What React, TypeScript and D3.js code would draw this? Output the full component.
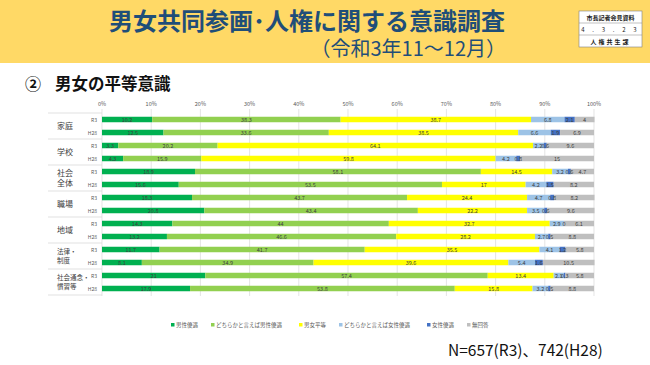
import React from "react";
import * as d3 from "d3";

const categories = ["家庭", "学校", "社会全体", "職場", "地域", "法律・制度", "社会通念・慣習等"];
const categoryLines = [["家庭"], ["学校"], ["社会", "全体"], ["職場"], ["地域"], ["法律・", "制度"], ["社会通念・", "慣習等"]];
const years = ["R3", "H28"];
const seriesNames = ["男性優遇", "どちらかと言えば男性優遇", "男女平等", "どちらかと言えば女性優遇", "女性優遇", "無回答"];
const seriesColors = ["#00B050", "#92D050", "#FFFF00", "#9DC3E6", "#4472C4", "#BFBFBF"];

// values in order: 家庭 R3, 家庭 H28, 学校 R3, 学校 H28, ...
const menFavored = [10.2, 12.5, 3.3, 4.3, 18.9, 15.6, 18.3, 20.8, 14.3, 13.2, 11.7, 8.1, 21, 17.9];
const somewhatMen = [38.3, 33.6, 20.2, 15.9, 58.1, 53.5, 43.7, 43.4, 44, 46.6, 41.7, 34.9, 57.4, 53.8];
const equal = [38.7, 38.5, 64.1, 59.8, 14.5, 17, 24.4, 22.2, 32.7, 28.2, 35.5, 39.6, 13.4, 15.8];
const somewhatWomen = [6.8, 6.6, 2.2, 4.2, 3.2, 4.2, 4.7, 3.5, 2.9, 2.7, 4.1, 5.4, 2.1, 3.2];
const womenFavored = [2.1, 1.9, 0.6, 0.8, 0.6, 1.5, 0.8, 0.6, 0, 0.5, 1.2, 1.6, 0.3, 0.5];
const noAnswer = [4, 6.9, 9.6, 15, 4.7, 8.2, 8.2, 9.6, 6.1, 8.8, 5.8, 10.5, 5.8, 8.8];
const xTicks = [0, 10, 20, 30, 40, 50, 60, 70, 80, 90, 100];

const FONT = "'Noto Sans CJK JP', 'Noto Sans', sans-serif";

const App = () => {
  const width = 650;
  const height = 365;
  const allSeries = [menFavored, somewhatMen, equal, somewhatWomen, womenFavored, noAnswer];

  const rows = [];
  categories.forEach((c, ci) => {
    years.forEach((y, yi) => {
      const row: any = { cat: c, year: y };
      seriesNames.forEach((s, si) => {
        row[s] = allSeries[si][ci * 2 + yi];
      });
      rows.push(row);
    });
  });

  const stacked = d3.stack().keys(seriesNames)(rows);

  const x = d3.scaleLinear().domain([0, 100]).range([102, 594]);
  const yGroup = d3.scaleBand().domain(categories).range([113, 295]);
  const yInner = d3.scalePoint().domain(years).range([0, yGroup.bandwidth()]).padding(0.5);
  const barH = 5.5;

  // legend positions
  let lx = 171;
  const legendItems = seriesNames.map((s, i) => {
    const item = { name: s, color: seriesColors[i], x: lx };
    lx += 5 + s.length * 6 + 11;
    return item;
  });

  return (
    <svg width={width} height={height} style={{ position: "absolute", left: 0, top: 0, fontFamily: FONT }}>
      <rect x={0} y={0} width={width} height={height} fill="#fff" />
      {/* header */}
      <rect x={0} y={0} width={width} height={63} fill="#FFD966" />
      <text x={307} y={30} textAnchor="middle" fontSize={24} fontWeight="bold" fill="#1F4E79">
        男女共同参画･人権に関する意識調査
      </text>
      <text x={506} y={56} textAnchor="end" fontSize={20} fill="#1F4E79">
        （令和3年11～12月）
      </text>
      <g>
        <rect x={579} y={11} width={63} height={36} fill="#fff" stroke="#808080" strokeWidth={0.6} />
        <line x1={579} x2={642} y1={23} y2={23} stroke="#808080" strokeWidth={0.5} />
        <line x1={579} x2={642} y1={35} y2={35} stroke="#808080" strokeWidth={0.5} />
        <text x={610.5} y={19.5} textAnchor="middle" fontSize={6} fontWeight="bold" fill="#222">市長記者会見資料</text>
        <text x={610.5} y={31.5} textAnchor="middle" fontSize={6} fill="#222" letterSpacing={3.2}>4 . 3 . 2 3</text>
        <text x={610.5} y={43.5} textAnchor="middle" fontSize={6} fontWeight="bold" fill="#222" letterSpacing={2}>人権共生課</text>
      </g>
      <text x={25} y={90} fontSize={16} fontWeight="bold" fill="#111">②</text>
      <text x={55} y={90} fontSize={16.5} fontWeight="bold" fill="#111">男女の平等意識</text>

      {/* grid */}
      {xTicks.map((t) => (
        <g key={t}>
          <line x1={x(t)} x2={x(t)} y1={109} y2={296} stroke="#D9D9D9" strokeWidth={0.7} />
          <text x={x(t)} y={106} textAnchor="middle" fontSize={5.5} fill="#595959">
            {t}%
          </text>
        </g>
      ))}

      {/* left labels */}
      {categories.map((c, ci) => {
        const top = yGroup(c);
        const lines = categoryLines[ci];
        const cy = top + yGroup.bandwidth() / 2;
        const fs = ci >= 5 ? 6.5 : 8;
        const lh = ci >= 5 ? 9 : 10.5;
        return (
          <g key={c}>
            <line x1={48} x2={102} y1={top} y2={top} stroke="#D9D9D9" strokeWidth={0.8} />
            {lines.map((l, li) => (
              <text
                key={li}
                x={57}
                y={cy + fs * 0.38 + (li - (lines.length - 1) / 2) * lh}
                fontSize={fs}
                fill="#404040"
              >
                {l}
              </text>
            ))}
            {years.map((yr) => (
              <text key={yr} x={97} y={top + yInner(yr) + 2} textAnchor="end" fontSize={5} fill="#595959">
                {yr}
              </text>
            ))}
          </g>
        );
      })}
      <line x1={48} x2={102} y1={295} y2={295} stroke="#D9D9D9" strokeWidth={0.8} />

      {/* bars */}
      {stacked.map((layer, si) => (
        <g key={layer.key}>
          {layer.map((d, i) => {
            const r: any = d.data;
            const cy = yGroup(r.cat) + yInner(r.year);
            return (
              <rect
                key={i}
                x={x(d[0])}
                y={cy - barH / 2}
                width={Math.max(0, x(d[1]) - x(d[0]))}
                height={barH}
                fill={seriesColors[si]}
              />
            );
          })}
        </g>
      ))}
      {stacked.map((layer, si) => (
        <g key={layer.key + "-lab"}>
          {layer.map((d, i) => {
            const r: any = d.data;
            const cy = yGroup(r.cat) + yInner(r.year);
            return (
              <text
                key={i}
                x={(x(d[0]) + x(d[1])) / 2}
                y={cy + 2}
                textAnchor="middle"
                fontSize={5.5}
                fill="#404040"
              >
                {r[layer.key]}
              </text>
            );
          })}
        </g>
      ))}

      {/* legend */}
      {legendItems.map((it) => (
        <g key={it.name}>
          <rect x={it.x} y={323} width={3.5} height={3.5} fill={it.color} />
          <text x={it.x + 5} y={327} fontSize={5.5} fill="#595959">
            {it.name}
          </text>
        </g>
      ))}

      <text x={448} y={356} fontSize={15.5} fill="#111">
        N=657(R3)、742(H28)
      </text>
    </svg>
  );
};

export default App;
